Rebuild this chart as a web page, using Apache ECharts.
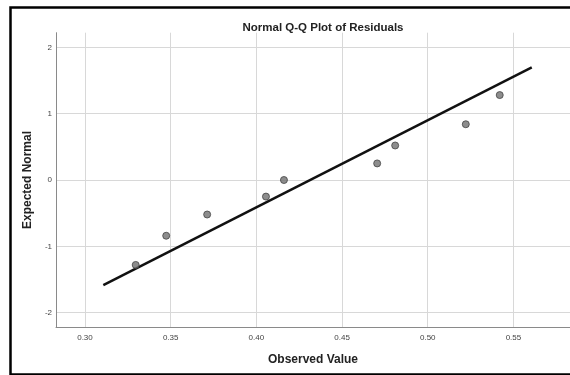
<!DOCTYPE html>
<html>
<head>
<meta charset="utf-8">
<script src="https://cdn.jsdelivr.net/npm/echarts@6/dist/echarts.min.js"></script>
<style>
html,body{margin:0;padding:0;background:#fff;}
#c{width:570px;height:375px;}
</style>
</head>
<body>
<div id="c"></div>
<script>
var observed = [0.3296, 0.3474, 0.3713, 0.4056, 0.4161, 0.4705, 0.4810, 0.5222, 0.5420];
var expected = [-1.28, -0.84, -0.52, -0.25, 0.00, 0.25, 0.52, 0.84, 1.28];
var lineX = [0.3107, 0.5607];
var lineY = [-1.583, 1.699];
var xTicks = [0.30, 0.35, 0.40, 0.45, 0.50, 0.55];
var yTicks = [-2, -1, 0, 1, 2];

var chart = echarts.init(document.getElementById('c'), null, {renderer: 'canvas'});
var pts = observed.map(function (v, i) { return [v, expected[i]]; });
var ln = lineX.map(function (v, i) { return [v, lineY[i]]; });
var font = 'Liberation Sans, Arial, sans-serif';

chart.setOption({
  animation: false,
  backgroundColor: '#fff',
  title: {
    text: 'Normal Q-Q Plot of Residuals',
    left: 318, top: 17, textAlign: 'center',
    textStyle: {fontFamily: font, fontSize: 11.5, fontWeight: 'bold', color: '#222'}
  },
  grid: {left: 56, right: 0, top: 32.7, bottom: 47.7, containLabel: false},
  xAxis: {
    type: 'value', min: 0.2831, max: 0.583,
    name: 'Observed Value', nameLocation: 'middle', nameGap: 26,
    nameTextStyle: {fontFamily: font, fontSize: 12, fontWeight: 'bold', color: '#222'},
    axisLine: {show: true, onZero: false, lineStyle: {color: '#8a8a8a', width: 1}},
    axisTick: {show: false, customValues: xTicks},
    axisLabel: {customValues: xTicks, formatter: function (v) { return v.toFixed(2); },
      fontFamily: font, fontSize: 8, color: '#444', margin: 6},
    splitLine: {show: true, lineStyle: {color: '#d8d8d8', width: 1}}
  },
  yAxis: {
    type: 'value', min: -2.22, max: 2.22,
    name: 'Expected Normal', nameLocation: 'middle', nameGap: 22, nameRotate: 90,
    nameTextStyle: {fontFamily: font, fontSize: 12, fontWeight: 'bold', color: '#222'},
    axisLine: {show: true, onZero: false, lineStyle: {color: '#8a8a8a', width: 1}},
    axisTick: {show: false, customValues: yTicks},
    axisLabel: {customValues: yTicks, fontFamily: font, fontSize: 8, color: '#444', margin: 4},
    splitLine: {show: true, lineStyle: {color: '#d8d8d8', width: 1}}
  },
  series: [
    {
      type: 'line', data: ln, symbol: 'none', silent: true,
      lineStyle: {color: '#111', width: 2.5}, z: 3
    },
    {
      type: 'scatter', data: pts, symbol: 'circle', symbolSize: 7,
      itemStyle: {color: '#707070', borderColor: '#444', borderWidth: 1}, z: 4
    }
  ],
  graphic: [{
    type: 'rect', left: 8, top: 5, silent: true, z: 100,
    shape: {width: 580, height: 367},
    style: {fill: 'none', stroke: '#000', lineWidth: 2.5}
  }]
});
</script>
</body>
</html>
